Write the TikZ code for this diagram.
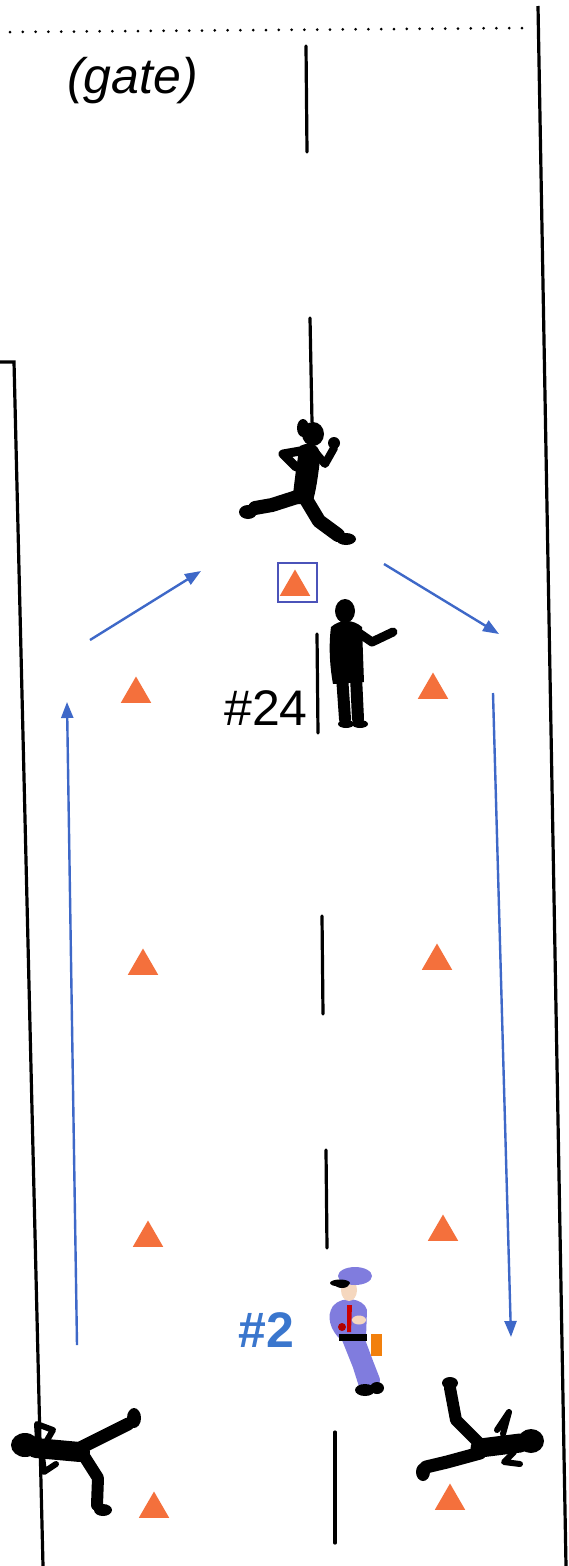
\documentclass[tikz,border=0pt]{standalone}
\usepackage{fontspec}
\setmainfont{Liberation Sans}
\usetikzlibrary{arrows.meta,shapes.geometric}
\definecolor{conecol}{RGB}{244,112,60}
\definecolor{runblue}{RGB}{62,104,200}
\definecolor{labblue}{RGB}{58,118,205}
\definecolor{uniform}{RGB}{128,124,222}
\definecolor{skin}{RGB}{245,215,190}
\tikzset{
  border/.style={line width=3.2pt, black},
  lane/.style={line width=3.2pt, black, line cap=round},
  cone/.style={regular polygon, regular polygon sides=3, minimum size=35pt,
    inner sep=0pt, fill=conecol, draw=none},
  run/.style={line width=2.4pt, runblue, -{Triangle[length=16pt,width=12pt]}},
  limb/.style={draw=black, line cap=round, line join=round},
  lbl/.style={font=\fontsize{50}{56}\selectfont, inner sep=0pt}
}
\begin{document}
\begin{tikzpicture}[x=1pt,y=-1pt]
\useasboundingbox (0,0) rectangle (568,1566);
\fill[white] (0,0) rectangle (568,1566);

% gate line and side boundaries
\coordinate (g1) at (10,32);
\coordinate (g2) at (526,28);
\draw[line width=3pt, dash pattern=on 0pt off 12.8pt, line cap=round] (g1) -- (g2);
\coordinate (rt) at (538,6);
\coordinate (rb) at (566,1566);
\draw[border] (rt) -- (rb);
\coordinate (lt) at (14,362);
\coordinate (lk) at (0,362);
\coordinate (lb) at (43,1566);
\draw[border] (lk) -- (lt) -- (lb);

% centre lane marks
\foreach \i/\xa/\ya/\xb/\yb in {1/306/46/307/152, 2/310/318/312/422, 3/317/634/318/733,
  4/322/916/323/1014, 5/326/1150/327/1248, 6/335/1432/335/1543} {
  \coordinate (ma\i) at (\xa,\ya);
  \coordinate (mb\i) at (\xb,\yb);
  \draw[lane] (ma\i) -- (mb\i);
}

\node[lbl, font=\fontsize{50}{56}\selectfont\itshape, anchor=north west] (gate) at (67,57) {(gate)};
\node[lbl, anchor=base west] (n24) at (224,725) {\#24};
\node[lbl, anchor=base west, font=\fontsize{50}{56}\selectfont\bfseries, text=labblue] (n2) at (238,1347) {\#2};

% cones
\node[cone] (cl1) at (136,694) {};
\node[cone] (cr1) at (433,690) {};
\node[cone] (cl2) at (143,966) {};
\node[cone] (cr2) at (437,961) {};
\node[cone] (cl3) at (148,1238) {};
\node[cone] (cr3) at (443,1232) {};
\node[cone] (cl4) at (154,1509) {};
\node[cone] (cr4) at (450,1501) {};
\node[cone] (cs) at (295,587) {};
\node[draw=runblue!80!violet, line width=2pt, minimum width=39pt, minimum height=39pt,
  inner sep=0pt] (box) at (297,582) {};

% running routes
\coordinate (a1s) at (90,640);  \coordinate (a1e) at (201,571);
\coordinate (a2s) at (384,564); \coordinate (a2e) at (499,634);
\coordinate (a3s) at (77,1345); \coordinate (a3e) at (67,702);
\coordinate (a4s) at (493,693); \coordinate (a4e) at (511,1337);
\draw[run] (a1s) -- (a1e);
\draw[run] (a2s) -- (a2e);
\draw[run] (a3s) -- (a3e);
\draw[run] (a4s) -- (a4e);

% runner at the gate
\fill (313,434) ellipse (11 and 12);
\fill (303,428) ellipse (6 and 9);
\fill (300,446) .. controls (312,440) and (322,446) .. (320,460)
  .. controls (318,476) and (316,492) .. (312,504)
  -- (292,504) .. controls (294,486) and (296,466) .. cycle;
\draw[limb, line width=9pt] (306,450) -- (283,454) -- (296,467);
\draw[limb, line width=8pt] (315,452) -- (325,464) -- (334,448);
\fill (334,443) circle (6);
\draw[limb, line width=14pt] (300,496) -- (272,505) -- (255,508);
\fill (248,512) ellipse (9 and 7);
\draw[limb, line width=14pt] (304,496) -- (319,521) -- (338,535);
\fill (346,539) ellipse (10 and 6);

% coach
\fill (345,611) ellipse (10 and 12);
\fill (331,627) .. controls (340,619) and (353,619) .. (362,627)
  -- (364,682) -- (333,684) .. controls (329,662) and (329,642) .. cycle;
\draw[limb, line width=9pt] (356,631) -- (372,642) -- (393,632);
\draw[limb, line width=12pt] (342,676) -- (345,719);
\draw[limb, line width=12pt] (356,676) -- (358,719);
\fill (346,724) ellipse (8 and 4);
\fill (360,724) ellipse (8 and 4);

% police officer
\draw[limb, draw=uniform, line width=13pt] (347,1335) -- (359,1365) -- (365,1384);
\draw[limb, draw=uniform, line width=12pt] (357,1335) -- (367,1362) -- (374,1380);
\fill (365,1390) ellipse (10 and 6);
\fill (377,1388) ellipse (7 and 6);
\fill[uniform] (333,1306) .. controls (342,1295) and (364,1298) .. (367,1310)
  -- (366,1338) -- (341,1340) .. controls (330,1330) and (326,1316) .. cycle;
\fill (339,1334) rectangle (367,1341);
\fill[red!80!black] (347,1305) -- (352,1305) -- (351,1332) -- (347,1332) -- cycle;
\fill[red!70!black] (342,1327) circle (4);
\fill[orange!80!brown] (371,1334) rectangle (382,1356);
\fill[skin] (349,1290) ellipse (8 and 11);
\fill (342,1284) ellipse (7 and 4);
\fill[uniform] (355,1276) ellipse (17 and 9);
\fill (340,1283) ellipse (10 and 3.5);
\fill[skin] (359,1320) ellipse (7 and 4.5);

% athlete at the left post
\fill (25,1445) ellipse (14 and 12);
\draw[limb, line width=20pt] (36,1448) -- (80,1452);
\draw[limb, line width=13pt] (76,1450) -- (108,1434) -- (128,1424);
\fill (134,1418) ellipse (7 and 10);
\draw[limb, line width=12pt] (84,1456) -- (98,1478) -- (97,1505);
\fill (103,1510) ellipse (9 and 6);
\draw[limb, line width=6pt] (38,1440) -- (37,1424) -- (53,1430) -- (46,1442);
\draw[limb, line width=6pt] (42,1456) -- (44,1472) -- (56,1464);

% athlete at the right side
\fill (531,1441) ellipse (13 and 12);
\draw[limb, line width=19pt] (520,1443) -- (480,1448);
\draw[limb, line width=12pt] (478,1442) -- (456,1420) -- (450,1388);
\fill (450,1383) ellipse (8 and 6);
\draw[limb, line width=13pt] (480,1453) -- (447,1462) -- (426,1467);
\fill (423,1472) ellipse (7 and 9);
\draw[limb, line width=6pt] (503,1434) -- (509,1412) -- (497,1430);
\draw[limb, line width=6pt] (514,1452) -- (504,1462) -- (520,1464);
\end{tikzpicture}
\end{document}
